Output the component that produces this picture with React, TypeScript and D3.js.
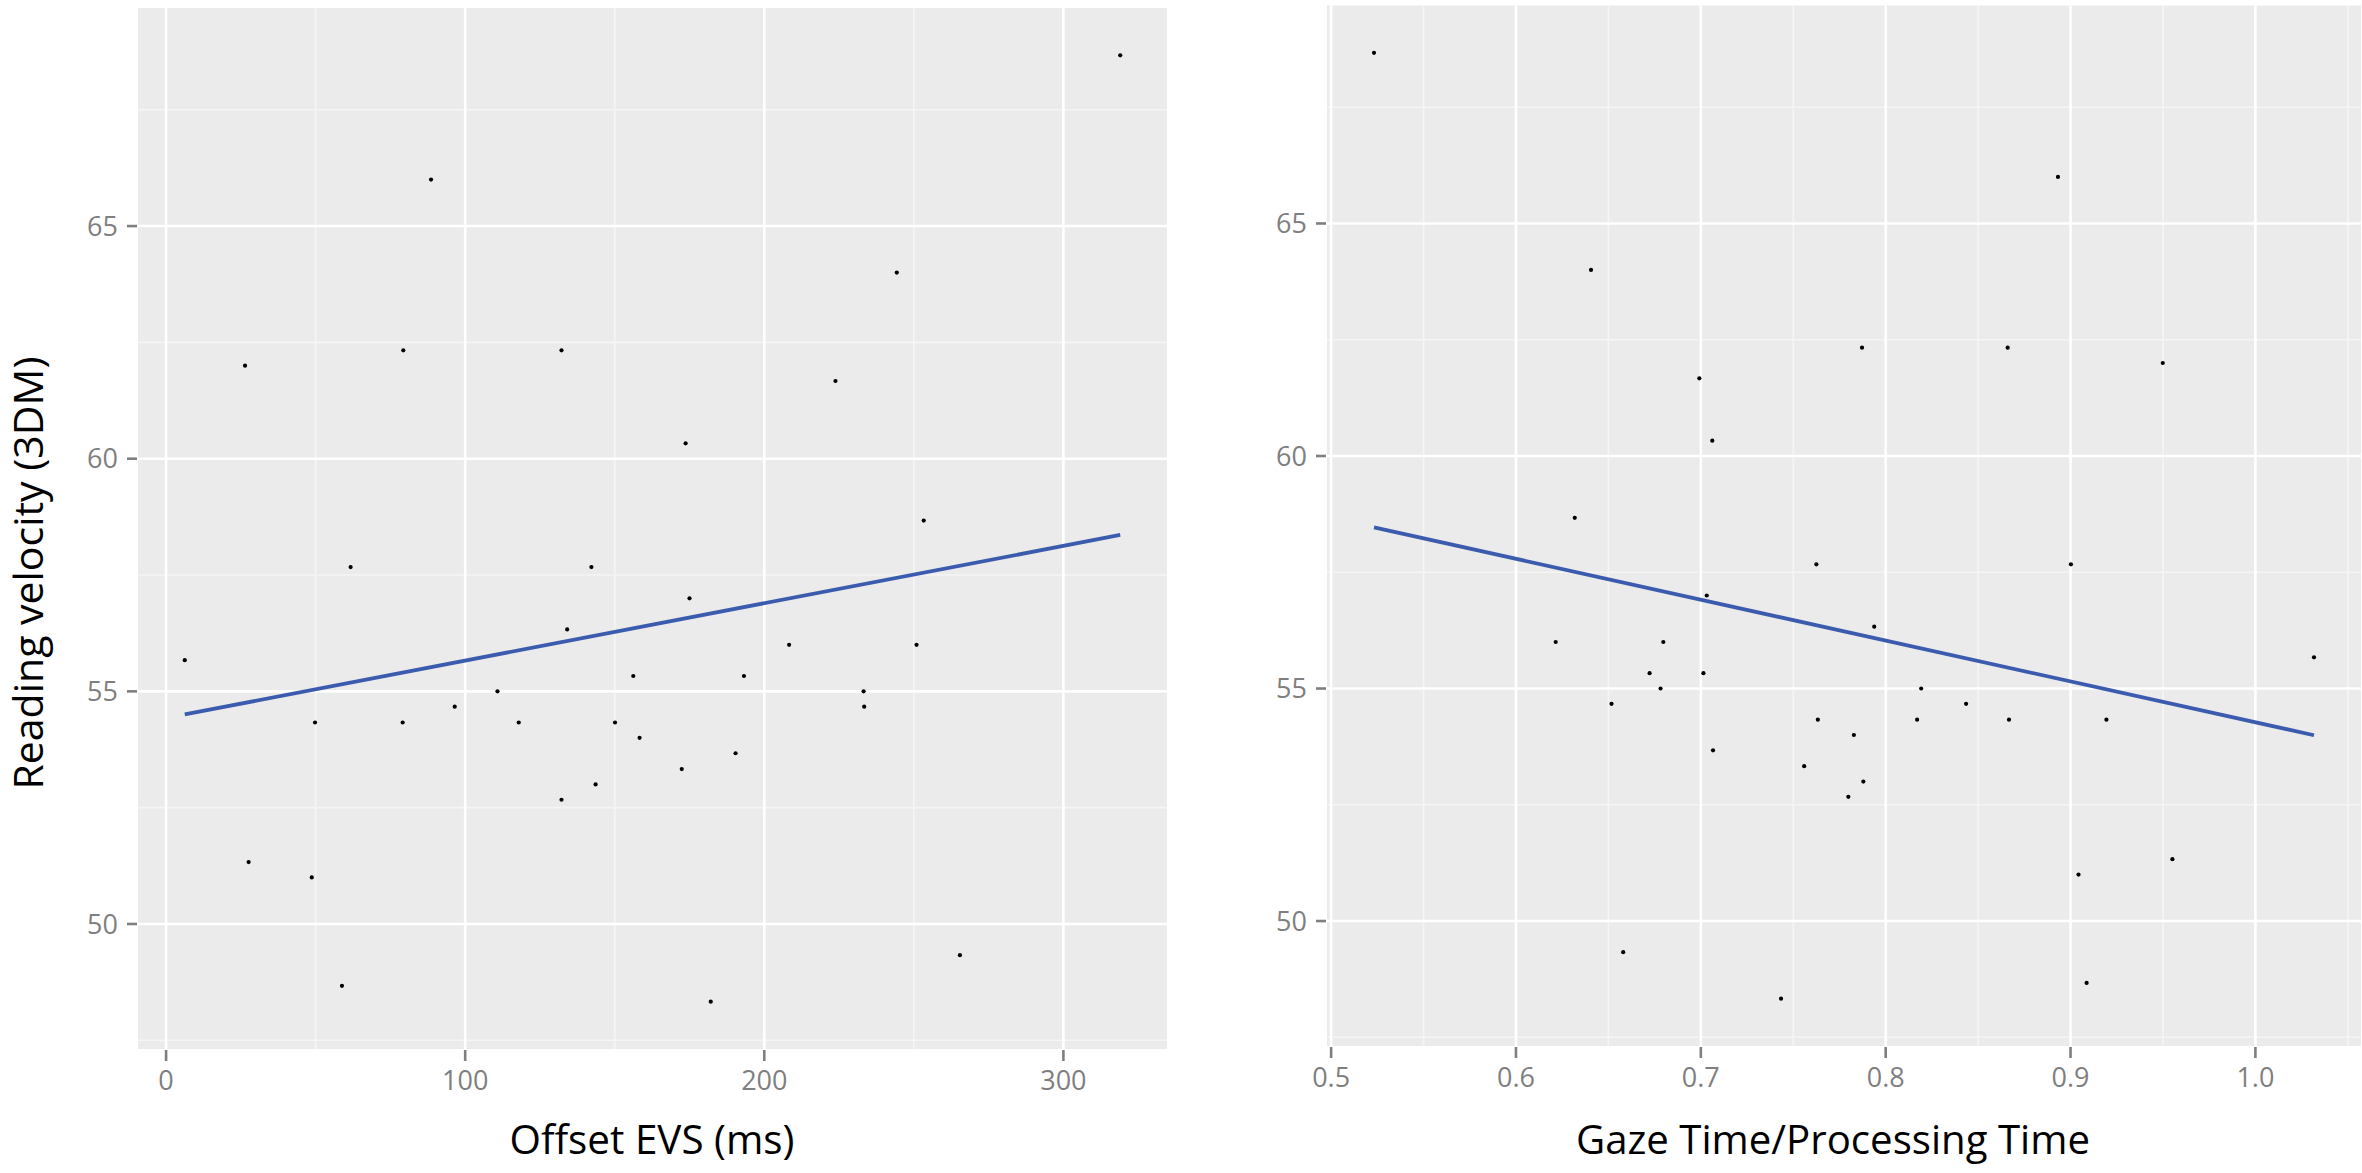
import React from "react";
import * as d3 from "d3";

// Reading velocity (3DM), one value per participant (sorted)
const readingVelocity = [
  48.33, 48.67, 49.33, 51.0, 51.33, 52.67, 53.0, 53.33, 53.67, 54.0,
  54.33, 54.33, 54.33, 54.33, 54.67, 54.67, 55.0, 55.0, 55.33, 55.33,
  55.67, 56.0, 56.0, 56.33, 57.0, 57.67, 57.67, 58.67, 60.33, 61.67,
  62.0, 62.33, 62.33, 64.0, 66.0, 68.67,
];
// Offset EVS (ms) paired with readingVelocity
const offsetEVS = [
  182.1, 58.8, 265.4, 48.7, 27.6, 132.2, 143.6, 172.4, 190.4, 158.3,
  49.8, 79.1, 117.9, 150.1, 96.5, 233.4, 110.8, 233.2, 156.2, 193.2,
  6.25, 208.3, 250.9, 134.1, 175.0, 61.7, 142.2, 253.3, 173.7, 223.8,
  26.4, 79.3, 132.2, 244.3, 88.6, 319.0,
];
// Gaze Time / Processing Time paired with readingVelocity
const gazeRatio = [
  0.7434, 0.9087, 0.658, 0.9043, 0.9551, 0.7798, 0.7879, 0.7559, 0.7066, 0.7828,
  0.7633, 0.817, 0.8667, 0.9194, 0.6517, 0.8435, 0.6782, 0.8192, 0.6723, 0.7014,
  1.0317, 0.6215, 0.6797, 0.7938, 0.7032, 0.7625, 0.9002, 0.6318, 0.7062, 0.6992,
  0.9499, 0.7872, 0.866, 0.6406, 0.8932, 0.5232,
];
const evsTicks = [0, 100, 200, 300];
const gazeTicks = [0.5, 0.6, 0.7, 0.8, 0.9, 1.0];
const velocityTicks = [50, 55, 60, 65];

const W = 2362;
const H = 1173;
const TICK_FONT = "'Open Sans', 'Noto Sans', sans-serif";

function expandDomain(values: number[]): [number, number] {
  const [lo, hi] = d3.extent(values) as [number, number];
  const pad = (hi - lo) * 0.05;
  return [lo - pad, hi + pad];
}

function minorTicks(major: number[], domain: [number, number]): number[] {
  const step = major[1] - major[0];
  const out: number[] = [];
  const first = major[0] - step / 2;
  for (let v = first; v <= domain[1] + 1e-9; v += step) {
    if (v >= domain[0] && v <= domain[1]) out.push(v);
  }
  return out;
}

function linearFit(xs: number[], ys: number[]) {
  const mx = d3.mean(xs) as number;
  const my = d3.mean(ys) as number;
  let sxy = 0;
  let sxx = 0;
  xs.forEach((x, i) => {
    sxy += (x - mx) * (ys[i] - my);
    sxx += (x - mx) * (x - mx);
  });
  const b = sxy / sxx;
  const a = my - b * mx;
  return (x: number) => a + b * x;
}

type PanelProps = {
  xs: number[];
  ys: number[];
  xTicks: number[];
  xFormat: (v: number) => string;
  left: number;
  right: number;
  top: number;
  bottom: number;
  title: string;
  titleX: number;
  titleLen: number;
};

function Panel(p: PanelProps) {
  const xDomain = expandDomain(p.xs);
  const yDomain = expandDomain(p.ys);
  const x = d3.scaleLinear().domain(xDomain).range([p.left, p.right]);
  const y = d3.scaleLinear().domain(yDomain).range([p.bottom, p.top]);
  const xMinor = minorTicks(p.xTicks, xDomain);
  const yMinor = minorTicks(velocityTicks, yDomain);
  const fit = linearFit(p.xs, p.ys);
  const [x0, x1] = d3.extent(p.xs) as [number, number];
  const line = d3.line<number>().x((d) => x(d)).y((d) => y(fit(d)));

  return (
    <g>
      <rect x={p.left} y={p.top} width={p.right - p.left} height={p.bottom - p.top} fill="#EBEBEB" />
      {xMinor.map((v) => (
        <line key={"xm" + v} x1={x(v)} x2={x(v)} y1={p.top} y2={p.bottom} stroke="#F5F5F5" strokeWidth={1.6} />
      ))}
      {yMinor.map((v) => (
        <line key={"ym" + v} x1={p.left} x2={p.right} y1={y(v)} y2={y(v)} stroke="#F5F5F5" strokeWidth={1.6} />
      ))}
      {p.xTicks.map((v) => (
        <line key={"xM" + v} x1={x(v)} x2={x(v)} y1={p.top} y2={p.bottom} stroke="#FFFFFF" strokeWidth={2.6} />
      ))}
      {velocityTicks.map((v) => (
        <line key={"yM" + v} x1={p.left} x2={p.right} y1={y(v)} y2={y(v)} stroke="#FFFFFF" strokeWidth={2.6} />
      ))}
      {p.xs.map((v, i) => (
        <circle key={"pt" + i} cx={x(v)} cy={y(p.ys[i])} r={2.1} fill="#000" />
      ))}
      <path d={line([x0, x1]) as string} fill="none" stroke="#3A5BAE" strokeWidth={3.8} />
      {/* x axis */}
      {p.xTicks.map((v) => (
        <g key={"xt" + v}>
          <line x1={x(v)} x2={x(v)} y1={p.bottom + 1} y2={p.bottom + 12} stroke="#7F7F7F" strokeWidth={2.6} />
          <text x={x(v)} y={p.bottom + 41} textAnchor="middle" fontFamily={TICK_FONT} fontSize={27} fill="#7F7F7F">
            {p.xFormat(v)}
          </text>
        </g>
      ))}
      {/* y axis */}
      {velocityTicks.map((v) => (
        <g key={"yt" + v}>
          <line x1={p.left - 11} x2={p.left - 1} y1={y(v)} y2={y(v)} stroke="#7F7F7F" strokeWidth={2.6} />
          <text x={p.left - 20} y={y(v)} dy="0.36em" textAnchor="end" fontFamily={TICK_FONT} fontSize={27} fill="#7F7F7F">
            {d3.format("d")(v)}
          </text>
        </g>
      ))}
      <text
        x={p.titleX}
        y={1154}
        textAnchor="middle"
        fontFamily={TICK_FONT}
        fontSize={40}
        fill="#000"
        textLength={p.titleLen}
        lengthAdjust="spacingAndGlyphs"
      >
        {p.title}
      </text>
    </g>
  );
}

export default function App() {
  return (
    <svg
      width={W}
      height={H}
      viewBox={`0 0 ${W} ${H}`}
      style={{ position: "absolute", left: 0, top: 0, background: "#fff" }}
    >
      <rect x={0} y={0} width={W} height={H} fill="#fff" />
      <Panel
        xs={offsetEVS}
        ys={readingVelocity}
        xTicks={evsTicks}
        xFormat={d3.format("d")}
        left={138}
        right={1167}
        top={8}
        bottom={1049}
        title="Offset EVS (ms)"
        titleX={652}
        titleLen={285}
      />
      <Panel
        xs={gazeRatio}
        ys={readingVelocity}
        xTicks={gazeTicks}
        xFormat={d3.format(".1f")}
        left={1327}
        right={2361}
        top={5.5}
        bottom={1046}
        title="Gaze Time/Processing Time"
        titleX={1833}
        titleLen={514}
      />
      <text
        transform={`translate(43, 573) rotate(-90)`}
        textAnchor="middle"
        fontFamily={TICK_FONT}
        fontSize={41}
        fill="#000"
        textLength={433}
        lengthAdjust="spacingAndGlyphs"
      >
        Reading velocity (3DM)
      </text>
    </svg>
  );
}
